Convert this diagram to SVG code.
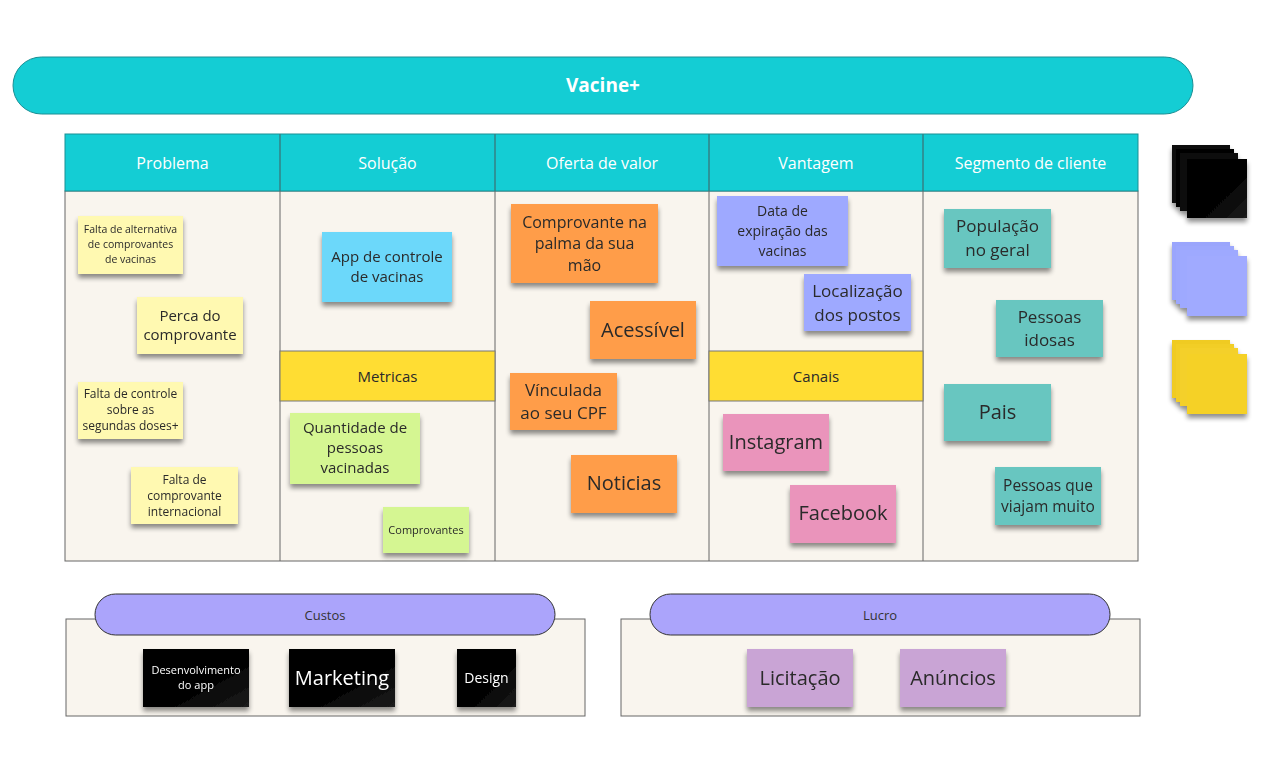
<svg xmlns="http://www.w3.org/2000/svg" width="1275" height="784" viewBox="0 0 1275 784">
<defs>
<filter id="sh" x="-20%" y="-20%" width="140%" height="160%">
<feGaussianBlur in="SourceAlpha" stdDeviation="2.5"/>
<feOffset dx="0" dy="4" result="b"/>
<feComponentTransfer><feFuncA type="linear" slope="0.45"/></feComponentTransfer>
<feMerge><feMergeNode/><feMergeNode in="SourceGraphic"/></feMerge>
</filter>
<linearGradient id="blk" x1="0" y1="0" x2="1" y2="1">
<stop offset="0" stop-color="#050505"/><stop offset="0.55" stop-color="#000"/><stop offset="1" stop-color="#1c1c1c"/>
</linearGradient>
</defs>
<style>
text{font-family:"Open Sans","Noto Sans","Liberation Sans",sans-serif;text-anchor:middle;fill:#2a2a2a}
.hd{fill:#ffffff;font-size:16px}
.cell{fill:#f9f5ee;stroke:#666;stroke-width:1}
.head{fill:#14cdd4;stroke:#1a8f94;stroke-width:1}
.band{fill:#ffdd33;stroke:#777;stroke-width:1}
.st{filter:url(#sh)}
.y{fill:#fff9b1}.b{fill:#6cd8fa}.g{fill:#d5f692}.o{fill:#ff9d48}.p{fill:#9ea9ff}.k{fill:#ea94bb}.t{fill:#67c6c0}.l{fill:#c9a4d5}.bk{fill:url(#blk)}
.w{fill:#ffffff}
.pill{fill:#aba4fb;stroke:#333;stroke-width:1}
</style>

<g id="title">
<rect x="13" y="57" width="1180" height="57" rx="28.5" fill="#14cdd4" stroke="#1a8f94" stroke-width="1"/>
<text x="603" y="92" style="font-size:19px;font-weight:bold;fill:#fff">Vacine+</text>
</g>

<g id="canvas">
<rect class="cell" x="65" y="191" width="1073" height="370"/>
<rect class="head" x="65" y="134" width="1073" height="57"/>
<line x1="280" y1="134" x2="280" y2="561" stroke="#666"/>
<line x1="495" y1="134" x2="495" y2="561" stroke="#666"/>
<line x1="709" y1="134" x2="709" y2="561" stroke="#666"/>
<line x1="923" y1="134" x2="923" y2="561" stroke="#666"/>
<line x1="280" y1="134" x2="280" y2="191" stroke="#1a8f94"/>
<line x1="495" y1="134" x2="495" y2="191" stroke="#1a8f94"/>
<line x1="709" y1="134" x2="709" y2="191" stroke="#1a8f94"/>
<line x1="923" y1="134" x2="923" y2="191" stroke="#1a8f94"/>
<text class="hd" x="172.5" y="169">Problema</text>
<text class="hd" x="387.5" y="169">Solução</text>
<text class="hd" x="602" y="169">Oferta de valor</text>
<text class="hd" x="816" y="169">Vantagem</text>
<text class="hd" x="1030.5" y="169">Segmento de cliente</text>
</g>

<g id="metricas">
<rect class="band" x="280" y="351" width="215" height="50"/>
<text x="387.5" y="382" style="font-size:15px">Metricas</text>
</g>
<g id="canais">
<rect class="band" x="709" y="351" width="214" height="50"/>
<text x="816" y="382" style="font-size:15px">Canais</text>
</g>

<!-- Problema -->
<g id="p1" class="st"><rect class="y" x="78" y="216" width="105" height="58"/>
<text style="font-size:10.5px" x="130.5" y="233">Falta de alternativa</text><text style="font-size:10.5px" x="130.5" y="248">de comprovantes</text><text style="font-size:10.5px" x="130.5" y="263">de vacinas</text></g>
<g id="p2" class="st"><rect class="y" x="137" y="297" width="106" height="57"/>
<text style="font-size:15px" x="190" y="321">Perca do</text><text style="font-size:15px" x="190" y="340">comprovante</text></g>
<g id="p3" class="st"><rect class="y" x="78" y="382" width="105" height="57"/>
<text style="font-size:12px" x="130.5" y="398">Falta de controle</text><text style="font-size:12px" x="130.5" y="414">sobre as</text><text style="font-size:12px" x="130.5" y="430">segundas doses+</text></g>
<g id="p4" class="st"><rect class="y" x="131" y="467" width="107" height="57"/>
<text style="font-size:12px" x="184.5" y="484">Falta de</text><text style="font-size:12px" x="184.5" y="500">comprovante</text><text style="font-size:12px" x="184.5" y="516">internacional</text></g>

<!-- Solucao -->
<g id="s1" class="st"><rect class="b" x="322" y="232" width="130" height="70"/>
<text style="font-size:15px" x="387" y="262">App de controle</text><text style="font-size:15px" x="387" y="282">de vacinas</text></g>
<g id="s2" class="st"><rect class="g" x="290" y="413" width="130" height="71"/>
<text style="font-size:15px" x="355" y="433">Quantidade de</text><text style="font-size:15px" x="355" y="453">pessoas</text><text style="font-size:15px" x="355" y="473">vacinadas</text></g>
<g id="s3" class="st"><rect class="g" x="383" y="507" width="86" height="46"/>
<text style="font-size:11px" x="426" y="534">Comprovantes</text></g>

<!-- Oferta -->
<g id="o1" class="st"><rect class="o" x="511" y="204" width="147" height="79"/>
<text style="font-size:16px" x="584.5" y="228">Comprovante na</text><text style="font-size:16px" x="584.5" y="249">palma da sua</text><text style="font-size:16px" x="584.5" y="271">mão</text></g>
<g id="o2" class="st"><rect class="o" x="590" y="301" width="106" height="58"/>
<text style="font-size:20px" x="643" y="337">Acessível</text></g>
<g id="o3" class="st"><rect class="o" x="510" y="373" width="107" height="57"/>
<text style="font-size:17px" x="563.5" y="396">Vínculada</text><text style="font-size:17px" x="563.5" y="419">ao seu CPF</text></g>
<g id="o4" class="st"><rect class="o" x="571" y="455" width="106" height="58"/>
<text style="font-size:20px" x="624" y="490">Noticias</text></g>

<!-- Vantagem -->
<g id="v1" class="st"><rect class="p" x="717" y="196" width="131" height="70"/>
<text style="font-size:14px" x="782.5" y="216">Data de</text><text style="font-size:14px" x="782.5" y="236">expiração das</text><text style="font-size:14px" x="782.5" y="256">vacinas</text></g>
<g id="v2" class="st"><rect class="p" x="804" y="274" width="107" height="57"/>
<text style="font-size:17px" x="857.5" y="297">Localização</text><text style="font-size:17px" x="857.5" y="321">dos postos</text></g>

<!-- Canais -->
<g id="c1" class="st"><rect class="k" x="723" y="414" width="106" height="57"/>
<text style="font-size:20px" x="776" y="449">Instagram</text></g>
<g id="c2" class="st"><rect class="k" x="790" y="485" width="106" height="58"/>
<text style="font-size:20px" x="843" y="520">Facebook</text></g>

<!-- Segmento -->
<g id="g1" class="st"><rect class="t" x="944" y="209" width="107" height="59"/>
<text style="font-size:17px" x="997.5" y="232">População</text><text style="font-size:17px" x="997.5" y="256">no geral</text></g>
<g id="g2" class="st"><rect class="t" x="996" y="300" width="107" height="57"/>
<text style="font-size:17px" x="1049.5" y="323">Pessoas</text><text style="font-size:17px" x="1049.5" y="346">idosas</text></g>
<g id="g3" class="st"><rect class="t" x="944" y="384" width="107" height="57"/>
<text style="font-size:20px" x="997.5" y="419">Pais</text></g>
<g id="g4" class="st"><rect class="t" x="995" y="467" width="106" height="58"/>
<text style="font-size:15.5px" x="1048" y="491">Pessoas que</text><text style="font-size:15.5px" x="1048" y="512">viajam muito</text></g>

<!-- stacks -->
<g id="stack-black" class="st">
<rect x="1172" y="145" width="58" height="58" fill="#0a0a0a"/>
<rect x="1176" y="149" width="58" height="58" fill="#050505"/>
<rect x="1180" y="153" width="58" height="58" fill="#080808"/>
<rect x="1187" y="159" width="60" height="59" fill="url(#blk)"/>
</g>
<g id="stack-purple" class="st">
<rect x="1172" y="242" width="58" height="58" fill="#9aa5fc"/>
<rect x="1176" y="246" width="58" height="58" fill="#9ca7fd"/>
<rect x="1180" y="250" width="58" height="58" fill="#9ea9ff"/>
<rect x="1187" y="256" width="60" height="60" fill="#a0aaff"/>
</g>
<g id="stack-yellow" class="st">
<rect x="1172" y="340" width="58" height="58" fill="#f0cb22"/>
<rect x="1176" y="344" width="58" height="58" fill="#f2ce26"/>
<rect x="1180" y="348" width="58" height="58" fill="#f4d02a"/>
<rect x="1187" y="354" width="60" height="60" fill="#f5d128"/>
</g>

<!-- Custos -->
<g id="custos">
<rect class="cell" x="66" y="619" width="519" height="97"/>
<rect class="pill" x="95" y="594" width="460" height="41" rx="20.5"/>
<text x="325" y="620" style="font-size:13px;fill:#333">Custos</text>
</g>
<g id="k1" class="st"><rect class="bk" x="143" y="649" width="106" height="58"/>
<text class="w" style="font-size:11px;fill:#fff" x="196" y="674">Desenvolvimento</text><text style="font-size:11px;fill:#fff" x="196" y="689">do app</text></g>
<g id="k2" class="st"><rect class="bk" x="289" y="649" width="106" height="58"/>
<text style="font-size:20px;fill:#fff" x="342" y="685">Marketing</text></g>
<g id="k3" class="st"><rect class="bk" x="457" y="649" width="59" height="58"/>
<text style="font-size:14px;fill:#fff" x="486.5" y="683">Design</text></g>

<!-- Lucro -->
<g id="lucro">
<rect class="cell" x="621" y="619" width="519" height="97"/>
<rect class="pill" x="650" y="594" width="460" height="41" rx="20.5"/>
<text x="880" y="620" style="font-size:13px;fill:#333">Lucro</text>
</g>
<g id="l1" class="st"><rect class="l" x="747" y="649" width="106" height="58"/>
<text style="font-size:20px" x="800" y="685">Licitação</text></g>
<g id="l2" class="st"><rect class="l" x="900" y="649" width="106" height="58"/>
<text style="font-size:20px" x="953" y="685">Anúncios</text></g>

<g id="connectors"></g>
</svg>
